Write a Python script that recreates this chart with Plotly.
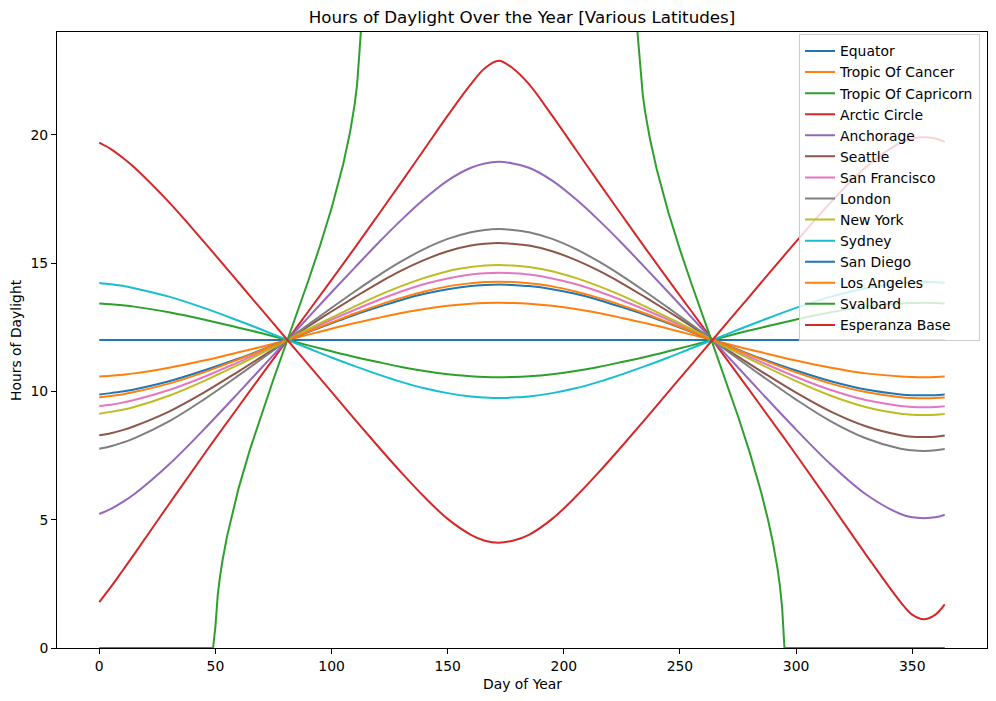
import plotly.graph_objects as go

# Day-of-year sample positions
days = [0, 5, 10, 15, 30, 45, 60, 70, 81, 90, 100, 110, 120, 130, 140, 150, 160, 166, 172,
        178, 185, 195, 205, 215, 225, 235, 245, 255, 264, 275, 285, 300, 315, 330,
        345, 350, 355, 360, 364]

equator = [12.0] * len(days)
tropic_of_cancer = [10.58, 10.61, 10.65, 10.70, 10.92, 11.20, 11.52, 11.74, 12.00, 12.21, 12.44,
                    12.66, 12.86, 13.05, 13.21, 13.33, 13.41, 13.44, 13.45, 13.44, 13.41, 13.33,
                    13.21, 13.05, 12.86, 12.66, 12.44, 12.21, 12.00, 11.74, 11.52, 11.20, 10.92,
                    10.70, 10.58, 10.56, 10.55, 10.56, 10.58]
tropic_of_capricorn = [13.42, 13.39, 13.35, 13.30, 13.08, 12.80, 12.48, 12.26, 12.00, 11.79,
                       11.56, 11.34, 11.14, 10.95, 10.79, 10.67, 10.59, 10.56, 10.55, 10.56,
                       10.59, 10.67, 10.79, 10.95, 11.14, 11.34, 11.56, 11.79, 12.00, 12.26,
                       12.48, 12.80, 13.08, 13.30, 13.42, 13.44, 13.45, 13.44, 13.42]
arctic_circle = [1.79, 2.38, 3.01, 3.65, 5.60, 7.53, 9.41, 10.65, 12.00, 13.11, 14.34, 15.59,
                 16.86, 18.14, 19.44, 20.74, 21.97, 22.59, 22.88, 22.59, 21.97, 20.74, 19.44,
                 18.14, 16.86, 15.59, 14.34, 13.11, 12.00, 10.65, 9.41, 7.53, 5.60, 3.65, 1.79,
                 1.30, 1.12, 1.30, 1.70]
anchorage = [5.22, 5.42, 5.68, 5.99, 7.15, 8.51, 9.95, 10.93, 12.00, 12.88, 13.86, 14.82, 15.77,
             16.67, 17.50, 18.21, 18.71, 18.88, 18.94, 18.88, 18.71, 18.21, 17.50, 16.67, 15.77,
             14.82, 13.86, 12.88, 12.00, 10.93, 9.95, 8.51, 7.15, 5.99, 5.22, 5.09, 5.06, 5.09,
             5.19]
seattle = [8.29, 8.37, 8.49, 8.64, 9.21, 9.95, 10.78, 11.35, 12.00, 12.53, 13.11, 13.67, 14.21,
           14.70, 15.12, 15.46, 15.68, 15.75, 15.78, 15.75, 15.68, 15.46, 15.12, 14.70, 14.21,
           13.67, 13.11, 12.53, 12.00, 11.35, 10.78, 9.95, 9.21, 8.64, 8.29, 8.23, 8.22, 8.23,
           8.28]
san_francisco = [9.43, 9.48, 9.56, 9.66, 10.05, 10.56, 11.14, 11.54, 12.00, 12.38, 12.79, 13.18,
                 13.55, 13.89, 14.18, 14.40, 14.55, 14.60, 14.62, 14.60, 14.55, 14.40, 14.18,
                 13.89, 13.55, 13.18, 12.79, 12.38, 12.00, 11.54, 11.14, 10.56, 10.05, 9.66,
                 9.43, 9.39, 9.38, 9.39, 9.42]
london = [7.76, 7.86, 8.00, 8.17, 8.83, 9.68, 10.62, 11.27, 12.00, 12.60, 13.25, 13.89, 14.50,
          15.06, 15.55, 15.94, 16.20, 16.29, 16.32, 16.29, 16.20, 15.94, 15.55, 15.06, 14.50,
          13.89, 13.25, 12.60, 12.00, 11.27, 10.62, 9.68, 8.83, 8.17, 7.76, 7.70, 7.68, 7.70,
          7.75]
new_york = [9.13, 9.20, 9.28, 9.39, 9.83, 10.40, 11.04, 11.49, 12.00, 12.42, 12.87, 13.31, 13.73,
            14.10, 14.42, 14.68, 14.84, 14.90, 14.92, 14.90, 14.84, 14.68, 14.42, 14.10, 13.73,
            13.31, 12.87, 12.42, 12.00, 11.49, 11.04, 10.40, 9.83, 9.39, 9.13, 9.09, 9.08, 9.09,
            9.12]
sydney = [14.22, 14.17, 14.11, 14.02, 13.69, 13.25, 12.75, 12.40, 12.00, 11.68, 11.32, 10.98,
          10.66, 10.37, 10.12, 9.93, 9.80, 9.76, 9.74, 9.76, 9.80, 9.93, 10.12, 10.37, 10.66,
          10.98, 11.32, 11.68, 12.00, 12.40, 12.75, 13.25, 13.69, 14.02, 14.22, 14.25, 14.26,
          14.25, 14.23]
san_diego = [9.88, 9.93, 9.99, 10.07, 10.39, 10.81, 11.28, 11.62, 12.00, 12.31, 12.65, 12.98,
             13.28, 13.56, 13.80, 13.98, 14.10, 14.14, 14.16, 14.14, 14.10, 13.98, 13.80, 13.56,
             13.28, 12.98, 12.65, 12.31, 12.00, 11.62, 11.28, 10.81, 10.39, 10.07, 9.88, 9.85,
             9.85, 9.85, 9.88]
los_angeles = [9.77, 9.82, 9.88, 9.97, 10.30, 10.74, 11.25, 11.60, 12.00, 12.33, 12.68, 13.03,
               13.35, 13.64, 13.89, 14.09, 14.21, 14.26, 14.27, 14.26, 14.21, 14.09, 13.89,
               13.64, 13.35, 13.03, 12.68, 12.33, 12.00, 11.60, 11.25, 10.74, 10.30, 9.97, 9.77,
               9.74, 9.73, 9.74, 9.76]
esperanza_base = [19.69, 19.44, 19.11, 18.73, 17.37, 15.83, 14.24, 13.17, 12.00, 11.04, 9.98,
                  8.91, 7.86, 6.84, 5.88, 5.03, 4.41, 4.18, 4.10, 4.18, 4.41, 5.03, 5.88, 6.84,
                  7.86, 8.91, 9.98, 11.04, 12.00, 13.17, 14.24, 15.83, 17.37, 18.73, 19.69,
                  19.85, 19.90, 19.85, 19.72]

# Svalbard: polar night / midnight sun, own sample days
svalbard_days = [0, 49, 50, 51, 52, 53, 55, 60, 65, 70, 75, 81, 85, 90, 95, 100, 105, 108, 110,
                 111, 112, 112.6, 172, 231.7, 233, 234, 235, 237, 240, 245, 250, 255, 264, 270,
                 275, 280, 285, 288, 290, 292, 293, 294, 295, 364]
svalbard = [0, 0, 0.83, 2.06, 2.80, 3.38, 4.35, 6.23, 7.77, 9.16, 10.47, 12.00, 13.02, 14.31,
            15.66, 17.13, 18.84, 20.11, 21.21, 21.95, 23.18, 24.0, None, 24.0, 22.44, 21.55,
            20.89, 19.88, 18.65, 16.98, 15.52, 14.18, 11.88, 10.34, 9.03, 7.63, 6.06, 4.97,
            4.12, 3.10, 2.45, 1.57, 0, 0]

series = [
    ("Equator", days, equator, "#1f77b4"),
    ("Tropic Of Cancer", days, tropic_of_cancer, "#ff7f0e"),
    ("Tropic Of Capricorn", days, tropic_of_capricorn, "#2ca02c"),
    ("Arctic Circle", days, arctic_circle, "#d62728"),
    ("Anchorage", days, anchorage, "#9467bd"),
    ("Seattle", days, seattle, "#8c564b"),
    ("San Francisco", days, san_francisco, "#e377c2"),
    ("London", days, london, "#7f7f7f"),
    ("New York", days, new_york, "#bcbd22"),
    ("Sydney", days, sydney, "#17becf"),
    ("San Diego", days, san_diego, "#1f77b4"),
    ("Los Angeles", days, los_angeles, "#ff7f0e"),
    ("Svalbard", svalbard_days, svalbard, "#2ca02c"),
    ("Esperanza Base", days, esperanza_base, "#d62728"),
]

FONT = "DejaVu Sans"
fig = go.Figure()
for name, xs, ys, color in series:
    shape = "linear" if name == "Svalbard" else "spline"
    fig.add_trace(go.Scatter(x=xs, y=ys, mode="lines", name=name,
                             line=dict(color=color, width=2, shape=shape)))

axis_common = dict(showline=True, linecolor="black", linewidth=1, mirror=True,
                   ticks="outside", ticklen=5, tickwidth=1, tickcolor="black",
                   showgrid=False, zeroline=False,
                   tickfont=dict(family=FONT, size=13.9, color="black"))

fig.update_layout(
    width=996, height=701,
    margin=dict(l=57, r=9, t=32, b=53),
    paper_bgcolor="white", plot_bgcolor="white",
    font=dict(family=FONT, size=13.9, color="black"),
    showlegend=True,
    legend=dict(x=0.9925, y=0.996, xanchor="right", yanchor="top",
                bgcolor="rgba(255,255,255,0.8)", bordercolor="#cccccc", borderwidth=1,
                font=dict(family=FONT, size=13.9, color="black"), itemwidth=30,
                tracegroupgap=0),
    title=dict(text="Hours of Daylight Over the Year [Various Latitudes]",
               x=(522 / 996), xanchor="center", y=1 - 17.5 / 701, yanchor="middle",
               font=dict(family=FONT, size=16.7, color="black")),
)
fig.update_xaxes(range=[-18.2, 382.2], tickvals=[0, 50, 100, 150, 200, 250, 300, 350],
                 layer="below traces", **axis_common)
fig.update_yaxes(range=[0, 24], tickvals=[0, 5, 10, 15, 20], **axis_common)

fig.add_annotation(text="Day of Year", xref="paper", yref="paper", x=0.5, y=-(684 - 648) / 616,
                   yanchor="middle", xanchor="center", showarrow=False,
                   font=dict(family=FONT, size=13.9, color="black"))
fig.add_annotation(text="Hours of Daylight", xref="paper", yref="paper",
                   x=-(57 - 16) / 930, y=0.5, xanchor="center", yanchor="middle",
                   textangle=-90, showarrow=False,
                   font=dict(family=FONT, size=13.9, color="black"))

fig.write_html("out.html")
